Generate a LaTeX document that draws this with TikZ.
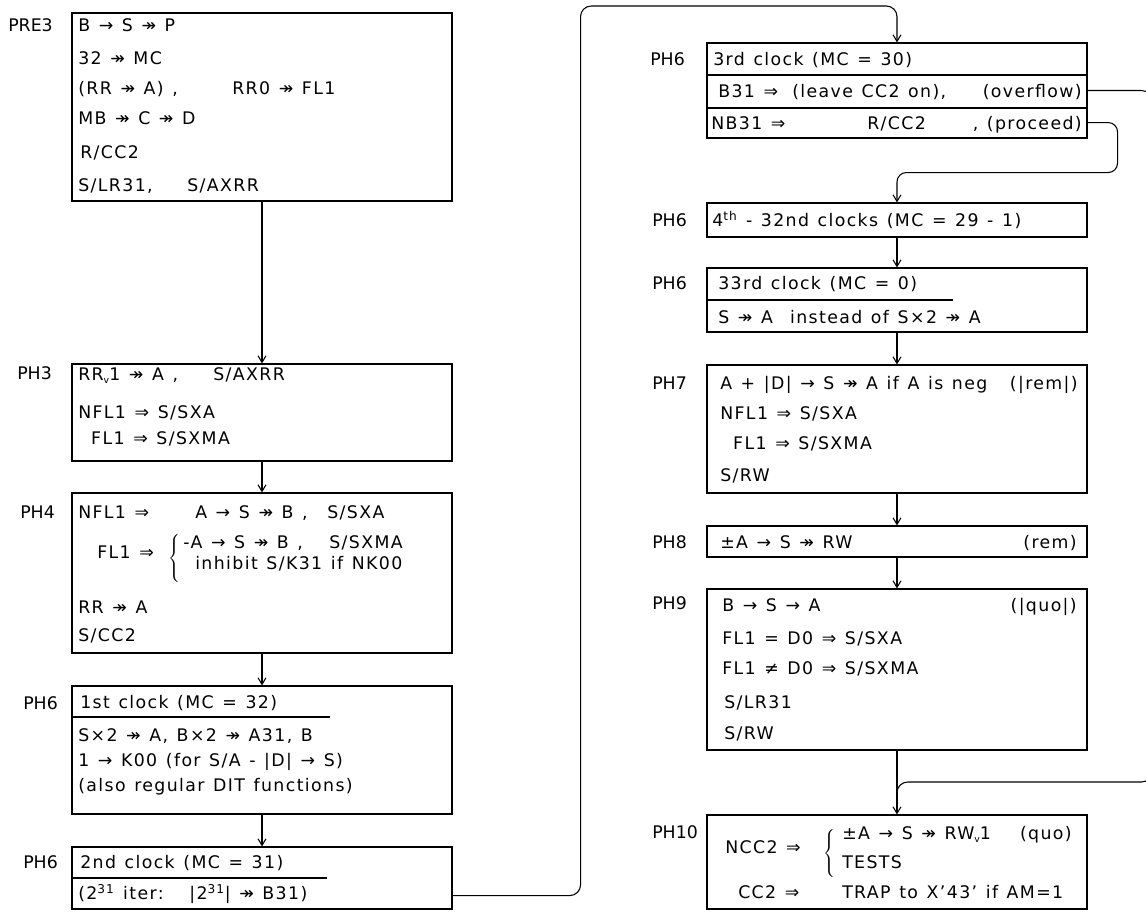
\documentclass[tikz,border=0pt]{standalone}
\usepackage{fontspec}
\setmainfont{DejaVu Sans}[LetterSpace=8,WordSpace=1.25]
\newfontfamily\lblfam{DejaVu Sans}
\usetikzlibrary{fit,arrows.meta}
\newcommand{\txf}{\fontsize{13}{16}\selectfont}
\newcommand{\lbf}{\lblfam\fontsize{13}{15}\selectfont}
\newcommand{\vv}{\raisebox{-0.35ex}{\scriptsize v}}
\begin{document}
\begin{tikzpicture}[x=0.75pt,y=-0.75pt,
  box/.style={draw, line width=0.8pt, inner sep=0pt, rectangle},
  tx/.style={anchor=west, inner sep=0pt, font=\txf, text height=12.5pt, text depth=3pt},
  tr/.style={anchor=east, inner sep=0pt, font=\txf, text height=12.5pt, text depth=3pt},
  lb/.style={anchor=west, inner sep=0pt, font=\lbf, text height=12.5pt, text depth=3pt},
  brc/.style={anchor=west, inner sep=0pt},
  arr/.style={line width=0.8pt, -{Straight Barb[length=5pt,width=6pt]}},
  ln/.style={line width=0.8pt}]
\useasboundingbox (0,0) rectangle (1146,911);
\fill[white] (0,0) rectangle (1146,911);
\begin{scope}
\clip (0,0) rectangle (1146,911);
% ---------------- left column boxes
\node[box, fit={(72,13) (452,201)}] (pre3) {};
\node[box, fit={(72,364) (452,461)}] (ph3) {};
\node[box, fit={(72,493) (452,653)}] (ph4) {};
\node[box, fit={(72,686) (452,814)}] (ph6a) {};
\node[box, fit={(72,847) (452,909)}] (ph6b) {};
% ---------------- right column boxes
\node[box, fit={(707,43) (1087,138)}] (ph6c) {};
\node[box, fit={(707,203) (1087,237)}] (ph6d) {};
\node[box, fit={(707,268) (1087,332)}] (ph6e) {};
\node[box, fit={(707,365) (1087,493)}] (ph7) {};
\node[box, fit={(707,526) (1087,557)}] (ph8) {};
\node[box, fit={(707,589) (1087,750)}] (ph9) {};
\node[box, fit={(707,815) (1087,909)}] (ph10) {};
% ---------------- labels
\node[lb] (lpre3) at (8,25) {PRE3};
\node[lb] (lph3) at (17,373) {PH3};
\node[lb] (lph4) at (20,512) {PH4};
\node[lb] (lph6a) at (23,703) {PH6};
\node[lb] (lph6b) at (23,862) {PH6};
\node[lb] (lph6c) at (650,59) {PH6};
\node[lb] (lph6d) at (652,220) {PH6};
\node[lb] (lph6e) at (652,283) {PH6};
\node[lb] (lph7) at (652,383) {PH7};
\node[lb] (lph8) at (652,542) {PH8};
\node[lb] (lph9) at (652,603) {PH9};
\node[lb] (lph10) at (652,832) {PH10};
% ---------------- PRE3
\node[tx] (p1) at (78,25) {B → S ↠ P};
\node[tx] (p2) at (78,58) {32 ↠ MC};
\node[tx] (p3) at (78,88) {(RR ↠ A) ,};
\node[tx] (p3b) at (232,88) {RR0 ↠ FL1};
\node[tx] (p4) at (78,118) {MB ↠ C ↠ D};
\node[tx] (p5) at (80,152) {R/CC2};
\node[tx] (p6) at (78,185) {S/LR31,};
\node[tx] (p6b) at (187,185) {S/AXRR};
% ---------------- PH3
\node[tx] (a1) at (78,374) {RR\vv1 ↠ A ,};
\node[tx] (a1b) at (213,374) {S/AXRR};
\node[tx] (a2) at (78,412) {NFL1 ⇒ S/SXA};
\node[tx] (a3) at (78,438) {\phantom{N}FL1 ⇒ S/SXMA};
% ---------------- PH4
\node[tx] (b1) at (78,512) {NFL1 ⇒};
\node[tx] (b1b) at (195,512) {A → S ↠ B ,};
\node[tx] (b1c) at (327,512) {S/SXA};
\node[tx] (b2) at (97,552) {FL1 ⇒};
\node[brc] (b2br) at (168,559) {$\left\{\rule[-16pt]{0pt}{32pt}\right.$};
\node[tx] (b2a) at (183,542) {-A → S ↠ B ,};
\node[tx] (b2b) at (329,542) {S/SXMA};
\node[tx] (b3) at (195,563) {inhibit S/K31 if NK00};
\node[tx] (b4) at (78,607) {RR ↠ A};
\node[tx] (b5) at (78,635) {S/CC2};
% ---------------- PH6 first clock
\node[tx] (c1) at (80,702) {1st clock (MC = 32)};
\draw[ln] (ph6a.west |- 0,717) -- (330,717);
\node[tx] (c2) at (78,735) {S×2 ↠ A, B×2 ↠ A31, B};
\node[tx] (c3) at (78,760) {1 → K00 (for S/A - |D| → S)};
\node[tx] (c4) at (78,785) {(also regular DIT functions)};
% ---------------- PH6 second clock
\node[tx] (d1) at (80,862) {2nd clock (MC = 31)};
\draw[ln] (ph6b.west |- 0,878) -- (327,878);
\node[tx] (d2) at (78,893) {(2\textsuperscript{31} iter:\ \ \ |2\textsuperscript{31}| ↠ B31)};
% ---------------- PH6 third clock
\node[tx] (e1) at (713,59) {3rd clock (MC = 30)};
\draw[ln] (ph6c.west |- 0,75) -- (ph6c.east |- 0,75);
\node[tx] (e2) at (718,91) {B31 ⇒};
\node[tx] (e2b) at (792,91) {(leave CC2 on),};
\node[tr] (e2c) at (1082,91) {(overflow)};
\draw[ln] (ph6c.west |- 0,108) -- (ph6c.east |- 0,108);
\node[tx] (e3) at (711,123) {NB31 ⇒};
\node[tx] (e3b) at (867,123) {R/CC2};
\node[tr] (e3c) at (1082,123) {, (proceed)};
% ---------------- PH6 4th
\node[tx] (f1) at (712,220) {4\textsuperscript{th} - 32nd clocks (MC = 29 - 1)};
% ---------------- PH6 33rd
\node[tx] (g1) at (718,283) {33rd clock (MC = 0)};
\draw[ln] (ph6e.west |- 0,300) -- (953,300);
\node[tx] (g2) at (718,317) {S ↠ A\ \ instead of S×2 ↠ A};
% ---------------- PH7
\node[tx] (h1) at (720,383) {A + |D| → S ↠ A if A is neg};
\node[tr] (h1b) at (1078,383) {(|rem|)};
\node[tx] (h2) at (720,413) {NFL1 ⇒ S/SXA};
\node[tx] (h3) at (720,443) {\phantom{N}FL1 ⇒ S/SXMA};
\node[tx] (h4) at (720,475) {S/RW};
% ---------------- PH8
\node[tx] (i1) at (720,542) {±A → S ↠ RW};
\node[tr] (i1b) at (1077,542) {(rem)};
% ---------------- PH9
\node[tx] (j1) at (722,605) {B → S → A};
\node[tr] (j1b) at (1077,605) {(|quo|)};
\node[tx] (j2) at (722,638) {FL1 = D0 ⇒ S/SXA};
\node[tx] (j3) at (722,668) {FL1 ≠ D0 ⇒ S/SXMA};
\node[tx] (j4) at (724,702) {S/LR31};
\node[tx] (j5) at (724,733) {S/RW};
% ---------------- PH10
\node[tx] (k1) at (725,847) {NCC2 ⇒};
\node[brc] (k1br) at (823,853) {$\left\{\rule[-15pt]{0pt}{30pt}\right.$};
\node[tx] (k2) at (842,833) {±A → S ↠ RW\vv1};
\node[tr] (k2b) at (1072,833) {(quo)};
\node[tx] (k3) at (842,862) {TESTS};
\node[tx] (k4) at (738,892) {CC2 ⇒};
\node[tx] (k4b) at (842,892) {TRAP to X'43' if AM=1};
% ---------------- connectors
\coordinate (topy) at (0,6);
\coordinate (ovy) at (0,782);
\coordinate (rx) at (1152,0);
\draw[arr] (pre3.south) -- (ph3.north);
\draw[arr] (ph3.south) -- (ph4.north);
\draw[arr] (ph4.south) -- (ph6a.north);
\draw[arr] (ph6a.south) -- (ph6b.north);
\draw[arr, rounded corners=8pt] ([yshift=10.5pt]ph6b.south east) -- ++(128,0) |- (ph6c.north |- topy) -- (ph6c.north);
\draw[arr, rounded corners=7pt] ([yshift=12pt]ph6c.south east) -- ++(30,0) -- ++(0,50) -| (ph6d.north);
\draw[arr] (ph6d.south) -- (ph6e.north);
\draw[arr] (ph6e.south) -- (ph7.north);
\draw[arr] (ph7.south) -- (ph8.north);
\draw[arr] (ph8.south) -- (ph9.north);
\draw[ln, rounded corners=8pt] (ph6c.east) -- (rx |- ph6c.east) -- (rx |- ovy) -| ([yshift=12pt]ph10.north);
\draw[arr] (ph9.south) -- (ph10.north);
\end{scope}
\end{tikzpicture}
\end{document}
